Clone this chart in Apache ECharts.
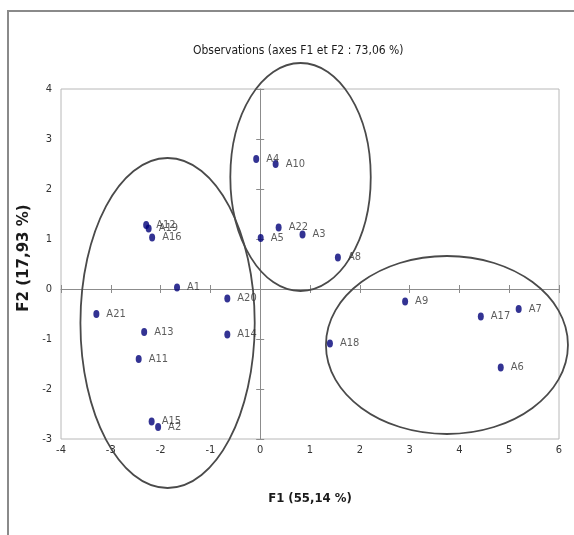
<!DOCTYPE html>
<html>
<head>
<meta charset="utf-8">
<script src="https://cdn.jsdelivr.net/npm/echarts@6/dist/echarts.min.js"></script>
<style>html,body{margin:0;padding:0;background:#fff;}#main{width:574px;height:535px;}</style>
</head>
<body>
<div id="main"></div>
<script>
// ---- data ----
var obsNames = ['A1','A2','A3','A4','A5','A6','A7','A8','A9','A10','A11','A12','A13','A14','A15','A16','A17','A18','A19','A20','A21','A22'];
var f1Values = [-1.67,-2.05,0.85,-0.08,0.01,4.83,5.19,1.56,2.91,0.31,-2.44,-2.29,-2.33,-0.66,-2.18,-2.17,4.43,1.40,-2.24,-0.66,-3.29,0.37];
var f2Values = [0.03,-2.76,1.09,2.60,1.02,-1.57,-0.40,0.63,-0.25,2.50,-1.40,1.28,-0.86,-0.91,-2.65,1.03,-0.55,-1.09,1.21,-0.19,-0.50,1.23];
var xTicks = [-4,-3,-2,-1,0,1,2,3,4,5,6];
var yTicks = [-3,-2,-1,0,1,2,3,4];
// group ellipses (data units)
var ellipseCx = [-1.86, 0.81, 3.75];
var ellipseCy = [-0.68, 2.24, -1.12];
var ellipseRx = [1.75, 1.41, 2.43];
var ellipseRy = [3.30, 2.28, 1.78];

var narrow = "'Liberation Sans Narrow','DejaVu Sans Condensed','Arial Narrow','Liberation Sans',sans-serif";

var points = obsNames.map(function(n, i){ return {name: n, value: [f1Values[i], f2Values[i]]}; });
var ellipses = ellipseCx.map(function(c, i){ return [c, ellipseCy[i], ellipseRx[i], ellipseRy[i]]; });

var chart = echarts.init(document.getElementById('main'), null, {renderer: 'canvas'});

function xAxisBase(extra){
  return Object.assign({
    type: 'value', min: xTicks[0], max: xTicks[xTicks.length-1], interval: 1,
    splitLine: {show: false}
  }, extra);
}
function yAxisBase(extra){
  return Object.assign({
    type: 'value', min: yTicks[0], max: yTicks[yTicks.length-1], interval: 1,
    splitLine: {show: false}
  }, extra);
}
var zeroColor = '#8c8c8c';

chart.setOption({
  animation: false,
  backgroundColor: '#fff',
  title: {
    text: 'Observations (axes F1 et F2 : 73,06 %)',
    left: 188, top: 40,
    textStyle: {fontFamily: narrow, fontSize: 12, fontWeight: 'normal', color: '#1a1a1a'}
  },
  grid: {left: 61, right: 15, top: 89, bottom: 96, show: true, borderColor: '#b8b8b8', borderWidth: 1, containLabel: false},
  graphic: [{
    type: 'polyline', silent: true,
    shape: {points: [[8, 535], [8, 11], [574, 11]]},
    style: {stroke: '#8a8a8a', lineWidth: 2, fill: null}
  }],
  xAxis: [
    xAxisBase({
      position: 'bottom',
      axisLine: {show: false, onZero: false},
      axisTick: {show: false},
      axisLabel: {show: true, margin: 6, fontFamily: narrow, fontSize: 11, color: '#333'},
      name: 'F1 (55,14 %)', nameLocation: 'middle', nameGap: 53,
      nameTextStyle: {fontFamily: narrow, fontSize: 13, fontWeight: 'bold', color: '#1a1a1a'}
    }),
    xAxisBase({
      axisLine: {show: true, onZero: true, lineStyle: {color: zeroColor, width: 1}},
      axisTick: {show: true, length: 4, lineStyle: {color: zeroColor}},
      axisLabel: {show: false}
    }),
    xAxisBase({
      axisLine: {show: false, onZero: true},
      axisTick: {show: true, inside: true, length: 4, lineStyle: {color: zeroColor}},
      axisLabel: {show: false}
    })
  ],
  yAxis: [
    yAxisBase({
      position: 'left',
      axisLine: {show: false, onZero: false},
      axisTick: {show: false},
      axisLabel: {show: true, margin: 9, fontFamily: narrow, fontSize: 11, color: '#333'},
      name: 'F2 (17,93 %)', nameLocation: 'middle', nameGap: 21,
      nameTextStyle: {fontFamily: "'DejaVu Sans',sans-serif", fontSize: 15, fontWeight: 'bold', color: '#1a1a1a', padding: [0, 0, 0, 12]}
    }),
    yAxisBase({
      axisLine: {show: true, onZero: true, lineStyle: {color: zeroColor, width: 1}},
      axisTick: {show: true, length: 4, lineStyle: {color: zeroColor}},
      axisLabel: {show: false}
    }),
    yAxisBase({
      axisLine: {show: false, onZero: true},
      axisTick: {show: true, inside: true, length: 4, lineStyle: {color: zeroColor}},
      axisLabel: {show: false}
    })
  ],
  series: [
    {
      type: 'custom', xAxisIndex: 0, yAxisIndex: 0, clip: false, silent: true, z: 3,
      data: ellipses,
      encode: {x: 0, y: 1},
      renderItem: function(params, api){
        var c = api.coord([api.value(0), api.value(1)]);
        var s = api.size([api.value(2), api.value(3)]);
        return {
          type: 'ellipse',
          shape: {cx: c[0], cy: c[1], rx: s[0], ry: s[1]},
          style: {fill: 'none', stroke: '#4a4a4a', lineWidth: 1.8}
        };
      }
    },
    {
      type: 'scatter', xAxisIndex: 0, yAxisIndex: 0, z: 5,
      symbol: 'circle', symbolSize: [6, 8],
      itemStyle: {color: '#000078'},
      data: points,
      label: {
        show: true, position: 'right', distance: 7,
        formatter: '{b}',
        fontFamily: narrow, fontSize: 11, color: '#333'
      }
    }
  ]
});
</script>
</body>
</html>
